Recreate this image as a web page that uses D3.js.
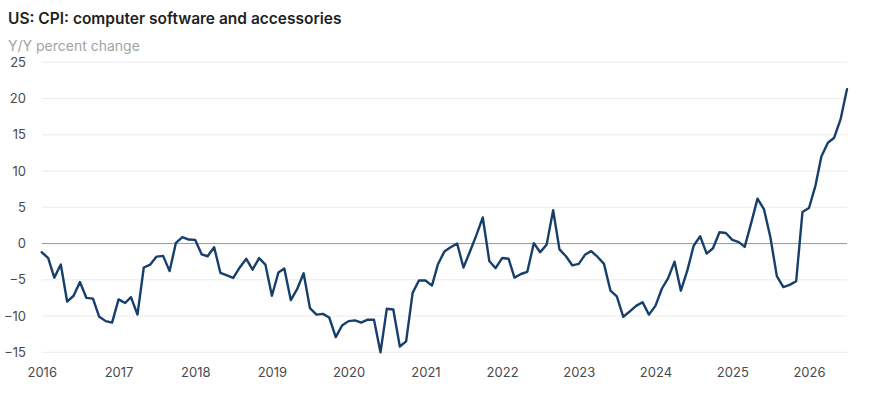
<!DOCTYPE html>
<html><head><meta charset="utf-8">
<script src="https://cdn.jsdelivr.net/npm/d3@7"></script>
<style>
html,body{margin:0;padding:0;background:#fff;}
svg{display:block;font-family:Inter,"Noto Sans",sans-serif;}
</style></head>
<body><svg id="c" width="871" height="407"></svg>
<script>
const title = "US: CPI: computer software and accessories";
const subtitle = "Y/Y percent change";
const startYear = 2016, startMonth = 0;
const values = [
  -1.2,-2.0,-4.7,-2.9,-8.0,-7.2,-5.3,-7.5,-7.6,-10.1,-10.7,-10.9,
  -7.7,-8.2,-7.4,-9.8,-3.3,-2.9,-1.8,-1.7,-3.8,0.1,0.9,0.55,
  0.5,-1.5,-1.75,-0.5,-4.05,-4.4,-4.75,-3.3,-2.1,-3.6,-2.0,-2.9,
  -7.2,-4.0,-3.45,-7.8,-6.3,-4.1,-8.9,-9.8,-9.7,-10.2,-12.9,-11.3,
  -10.7,-10.6,-10.9,-10.5,-10.5,-15.0,-9.0,-9.1,-14.2,-13.5,-6.8,-5.1,
  -5.1,-5.8,-2.9,-1.1,-0.5,0.0,-3.3,-1.1,1.2,3.6,-2.4,-3.4,
  -2.0,-2.1,-4.7,-4.2,-3.9,0.05,-1.2,-0.15,4.6,-0.8,-1.75,-3.0,
  -2.8,-1.5,-1.05,-1.85,-2.8,-6.5,-7.3,-10.1,-9.35,-8.6,-8.1,-9.8,
  -8.6,-6.2,-4.8,-2.5,-6.5,-3.7,-0.3,1.0,-1.4,-0.65,1.55,1.45,
  0.5,0.2,-0.45,2.85,6.2,4.7,0.9,-4.5,-6.0,-5.7,-5.2,4.35,
  4.9,8.0,12.0,13.9,14.6,17.2,21.3
];
const yTicks = [-15,-10,-5,0,5,10,15,20,25];
const xTickYears = [2016,2017,2018,2019,2020,2021,2022,2023,2024,2025,2026];

const data = values.map((v,i)=>({date:new Date(startYear, startMonth+i, 1), v}));
const svg = d3.select("#c");
const x = d3.scaleTime().domain([data[0].date, data[data.length-1].date]).range([41.7, 847]);
const y = d3.scaleLinear().domain([-15,25]).range([352.3, 62.3]);

svg.append("text").attr("x",8).attr("y",23.5).attr("font-size",15.5).attr("font-weight",600)
  .attr("fill","#1f1f1f").text(title);
svg.append("text").attr("x",8).attr("y",50.5).attr("font-size",14).attr("fill","#a3a3a3").text(subtitle);

// grid
svg.append("g").selectAll("line").data(yTicks.filter(d=>d!==0)).join("line")
  .attr("x1",x.range()[0]).attr("x2",x.range()[1])
  .attr("y1",d=>y(d)).attr("y2",d=>y(d)).attr("stroke","#ececec").attr("stroke-width",1);
svg.append("line").attr("x1",x.range()[0]).attr("x2",x.range()[1])
  .attr("y1",y(0)).attr("y2",y(0)).attr("stroke","#9a9a9a").attr("stroke-width",1);

// y axis labels
const yAxis = d3.axisLeft(y).tickValues(yTicks).tickSize(0).tickPadding(0).tickFormat(d=>d<0?"\u2212"+Math.abs(d):d);
const gy = svg.append("g").attr("transform","translate(26,0)").call(yAxis);
gy.select(".domain").remove();
gy.selectAll("text").attr("font-size",13).attr("fill","#4a4a4a").attr("font-family","Inter,'Noto Sans',sans-serif");

// x axis labels
const xAxis = d3.axisBottom(x).tickValues(xTickYears.map(yy=>new Date(yy,0,1))).tickSize(0).tickPadding(0).tickFormat(d3.timeFormat("%Y"));
const gx = svg.append("g").attr("transform","translate(0,368)").call(xAxis);
gx.select(".domain").remove();
gx.selectAll("text").attr("font-size",13).attr("fill","#4a4a4a").attr("font-family","Inter,'Noto Sans',sans-serif");

// line
svg.append("path").datum(data)
  .attr("d", d3.line().x(d=>x(d.date)).y(d=>y(d.v)))
  .attr("fill","none").attr("stroke","#163f6b").attr("stroke-width",2.4)
  .attr("stroke-linejoin","round").attr("stroke-linecap","round");
</script></body></html>
